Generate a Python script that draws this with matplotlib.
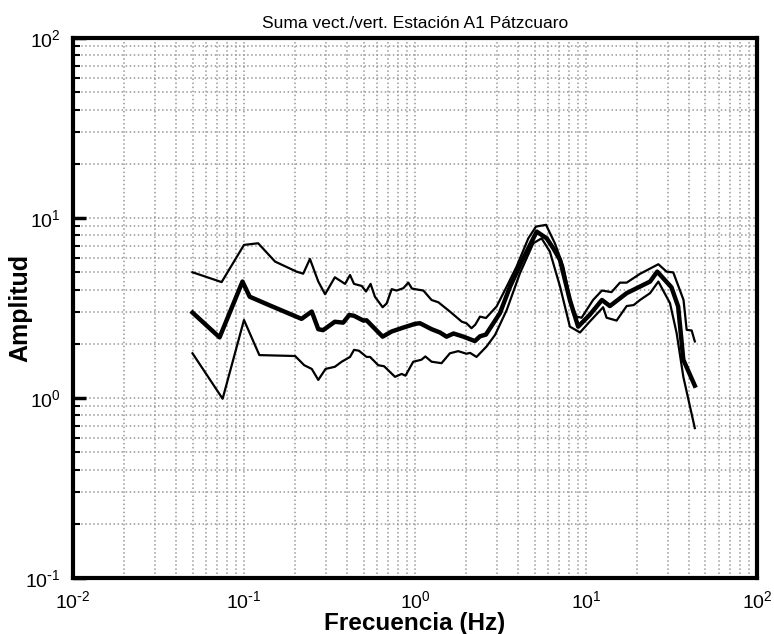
import matplotlib
matplotlib.use('Agg')
import numpy as np
import matplotlib.pyplot as plt
from matplotlib.ticker import LogLocator, NullFormatter, FuncFormatter

plt.rcParams['font.family'] = ['Liberation Sans', 'DejaVu Sans']
plt.rcParams['mathtext.default'] = 'regular'
plt.rcParams['axes.unicode_minus'] = False

# Upper curve (mean + std)
f_up = [0.05, 0.074, 0.1, 0.121, 0.152, 0.203, 0.222, 0.243, 0.272, 0.298, 0.34,
        0.39, 0.417, 0.44, 0.488, 0.517, 0.55, 0.583, 0.647, 0.683, 0.731, 0.78,
        0.855, 0.914, 0.96, 1.05, 1.12, 1.25, 1.37, 1.6, 1.88, 2.0, 2.14, 2.25,
        2.4, 2.6, 3.0, 3.44, 3.93, 4.6, 5.1, 5.84, 6.59, 7.37, 8.24, 8.82, 9.43,
        11.0, 12.4, 14.1, 15.8, 17.3, 20.7, 26.5, 29.6, 32.4, 37.2, 38.8, 41.5, 43.3]
a_up = [4.99, 4.4, 7.08, 7.23, 5.72, 5.03, 4.9, 5.92, 4.43, 3.77, 4.68,
        4.3, 4.82, 4.3, 4.19, 3.9, 4.3, 3.65, 3.19, 3.35, 4.02, 3.95,
        4.07, 4.37, 4.05, 3.99, 3.95, 3.5, 3.4, 3.02, 2.65, 2.6, 2.44, 2.55,
        2.83, 2.78, 3.22, 4.16, 5.37, 7.7, 8.95, 9.15, 7.2, 5.37, 3.22, 2.83, 2.79,
        3.5, 3.95, 3.87, 4.37, 4.37, 4.89, 5.53, 5.03, 4.98, 3.5, 2.39, 2.37, 2.06]

# Mean curve
f_mid = [0.05, 0.072, 0.098, 0.108, 0.139, 0.217, 0.249, 0.272, 0.29, 0.34, 0.38,
         0.413, 0.44, 0.499, 0.521, 0.647, 0.731, 0.855, 1.0, 1.07, 1.25, 1.4,
         1.53, 1.68, 1.92, 2.24, 2.4, 2.6, 3.14, 3.6, 4.3, 5.15, 5.89, 6.44,
         7.05, 8.05, 9.0, 10.5, 12.4, 13.8, 17.3, 23.7, 26.1, 31.6, 34.6, 37.1, 43.3]
a_mid = [2.98, 2.17, 4.43, 3.65, 3.29, 2.75, 3.02, 2.41, 2.38, 2.65, 2.62,
         2.89, 2.86, 2.69, 2.7, 2.19, 2.34, 2.46, 2.58, 2.6, 2.41, 2.31,
         2.19, 2.28, 2.19, 2.07, 2.2, 2.25, 2.96, 4.16, 5.97, 8.39, 7.7, 6.78,
         5.84, 3.5, 2.49, 2.89, 3.5, 3.24, 3.82, 4.43, 5.03, 4.12, 3.22, 1.63, 1.17]

# Lower curve (mean - std)
f_lo = [0.05, 0.075, 0.1, 0.123, 0.199, 0.225, 0.249, 0.272, 0.3, 0.34, 0.373,
        0.417, 0.44, 0.47, 0.521, 0.546, 0.61, 0.66, 0.764, 0.836, 0.88, 0.977,
        1.09, 1.15, 1.25, 1.43, 1.6, 1.79, 2.0, 2.1, 2.29, 2.62, 2.94, 3.44,
        4.11, 4.92, 5.5, 6.15, 7.05, 8.05, 9.23, 10.5, 12.6, 13.2, 15.1, 17.3,
        19.0, 20.7, 23.7, 26.5, 31.0, 33.9, 37.1, 43.3]
a_lo = [1.77, 0.99, 2.71, 1.73, 1.71, 1.52, 1.45, 1.26, 1.45, 1.49, 1.59,
        1.69, 1.85, 1.83, 1.69, 1.69, 1.52, 1.5, 1.31, 1.36, 1.33, 1.59,
        1.63, 1.7, 1.59, 1.56, 1.77, 1.82, 1.76, 1.78, 1.69, 1.93, 2.24, 3.08,
        4.93, 7.23, 7.7, 6.5, 4.16, 2.49, 2.31, 2.65, 3.19, 2.79, 2.69, 3.24,
        3.28, 3.5, 3.82, 4.43, 3.36, 2.29, 1.31, 0.68]


def pow10(v, pos):
    e = int(round(np.log10(v)))
    if e < 0:
        return r'$10^{\text{-}%d}$' % (-e)
    return r'$10^{%d}$' % e


fig = plt.figure(figsize=(7.74, 6.34), dpi=100)
ax = fig.add_axes([0.0943, 0.0883, 0.8837, 0.852])

ax.plot(f_up, a_up, color='black', lw=1.6)
ax.plot(f_mid, a_mid, color='black', lw=3.2)
ax.plot(f_lo, a_lo, color='black', lw=1.6)

ax.set_xscale('log')
ax.set_yscale('log')
ax.set_xlim(1e-2, 1e2)
ax.set_ylim(1e-1, 1e2)

ax.xaxis.set_major_locator(LogLocator(base=10, numticks=10))
ax.yaxis.set_major_locator(LogLocator(base=10, numticks=10))
ax.xaxis.set_minor_locator(LogLocator(base=10, subs=range(2, 10), numticks=50))
ax.yaxis.set_minor_locator(LogLocator(base=10, subs=range(2, 10), numticks=50))
ax.xaxis.set_major_formatter(FuncFormatter(pow10))
ax.yaxis.set_major_formatter(FuncFormatter(pow10))
ax.xaxis.set_minor_formatter(NullFormatter())
ax.yaxis.set_minor_formatter(NullFormatter())

ax.grid(True, which='both', linestyle=':', color='#999999', linewidth=1.1)

for s in ax.spines.values():
    s.set_linewidth(3)

# ticks only on the left side, x axis keeps just its labels
ax.tick_params(axis='y', which='major', direction='in', length=9, width=2.5,
               labelsize=14, pad=9)
ax.tick_params(axis='y', which='minor', direction='in', length=5, width=1.5)
ax.tick_params(axis='x', which='both', length=0, labelsize=14, pad=9)

ax.set_title('Suma vect./vert. Estación A1 Pátzcuaro', fontsize=12.5, pad=7)
ax.set_xlabel('Frecuencia (Hz)', fontsize=17.5, fontweight='bold')
ax.xaxis.set_label_coords(0.5, -0.063)
ax.set_ylabel('Amplitud', fontsize=18, fontweight='bold')
ax.yaxis.set_label_coords(-0.06, 0.5)

fig.savefig('out.png', dpi=100)
